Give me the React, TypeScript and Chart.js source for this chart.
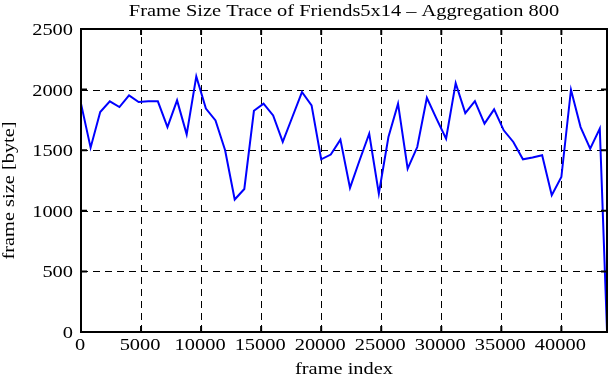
import React, { useEffect, useRef } from "react";
import { Chart, registerables } from "chart.js";

Chart.register(...registerables);

const TITLE = "Frame Size Trace of Friends5x14 – Aggregation 800";
const X_TITLE = "frame index";
const Y_TITLE = "frame size [byte]";

const frameIndex = [
  0, 800, 1600, 2400, 3200, 4000, 4800, 5600, 6400, 7200, 8000, 8800, 9600,
  10400, 11200, 12000, 12800, 13600, 14400, 15200, 16000, 16800, 17600, 18400,
  19200, 20000, 20800, 21600, 22400, 23200, 24000, 24800, 25600, 26400, 27200,
  28000, 28800, 29600, 30400, 31200, 32000, 32800, 33600, 34400, 35200, 36000,
  36800, 37600, 38400, 39200, 40000, 40800, 41600, 42400, 43200, 43800,
];

const frameSize = [
  1884, 1521, 1815, 1903, 1856, 1952, 1897, 1903, 1903, 1691, 1911, 1631, 2109,
  1843, 1746, 1500, 1093, 1180, 1825, 1884, 1787, 1568, 1774, 1980,
  1870, 1425, 1464, 1587, 1189, 1417, 1636, 1142, 1609, 1884, 1348,
  1526, 1933, 1760, 1595, 2053, 1806, 1905, 1719, 1837, 1664, 1568,
  1425, 1439, 1458, 1129, 1279, 1999, 1691, 1513, 1678, 10,
];

const xTickValues = [0, 5000, 10000, 15000, 20000, 25000, 30000, 35000, 40000];
const yTickValues = [0, 500, 1000, 1500, 2000, 2500];

const X_MIN = 0;
const X_MAX = 43800;
const Y_MIN = 0;
const Y_MAX = 2500;

const FONT = '17px "Liberation Serif"';
const SX = 1.2;

function stretchedText(
  ctx: CanvasRenderingContext2D,
  text: string,
  x: number,
  y: number,
  align: CanvasTextAlign,
  rot = 0
) {
  ctx.save();
  ctx.translate(x, y);
  ctx.rotate(rot);
  ctx.scale(SX, 1);
  ctx.font = FONT;
  ctx.fillStyle = "#000";
  ctx.textAlign = align;
  ctx.textBaseline = "alphabetic";
  ctx.fillText(text, 0, 0);
  ctx.restore();
}

const gnuplotFrame = {
  id: "gnuplotFrame",
  beforeDatasetsDraw(chart: any) {
    const { ctx, chartArea: a, scales } = chart;
    const xs = scales.x;
    const ys = scales.y;
    ctx.save();
    ctx.strokeStyle = "#000";
    ctx.lineWidth = 1;
    ctx.setLineDash([7, 5]);
    xs.ticks.forEach((t: any) => {
      if (t.value <= X_MIN || t.value >= X_MAX) return;
      const px = Math.round(xs.getPixelForValue(t.value)) + 0.5;
      ctx.beginPath();
      ctx.moveTo(px, a.bottom);
      ctx.lineTo(px, a.top);
      ctx.stroke();
    });
    ys.ticks.forEach((t: any) => {
      if (t.value <= Y_MIN || t.value >= Y_MAX) return;
      const py = Math.round(ys.getPixelForValue(t.value)) + 0.5;
      ctx.beginPath();
      ctx.moveTo(a.left, py);
      ctx.lineTo(a.right, py);
      ctx.stroke();
    });
    ctx.restore();
  },
  afterDraw(chart: any) {
    const { ctx, chartArea: a, scales } = chart;
    const xs = scales.x;
    const ys = scales.y;
    ctx.save();
    ctx.strokeStyle = "#000";
    ctx.lineWidth = 2;
    ctx.setLineDash([]);
    ctx.strokeRect(a.left, a.top, a.right - a.left, a.bottom - a.top);
    const TL = 6;
    xs.ticks.forEach((t: any) => {
      const px = xs.getPixelForValue(t.value);
      ctx.beginPath();
      ctx.moveTo(px, a.bottom);
      ctx.lineTo(px, a.bottom - TL);
      ctx.moveTo(px, a.top);
      ctx.lineTo(px, a.top + TL);
      ctx.stroke();
      stretchedText(ctx, String(t.value), px - 1, a.bottom + 18, "center");
    });
    ys.ticks.forEach((t: any) => {
      const py = ys.getPixelForValue(t.value);
      ctx.beginPath();
      ctx.moveTo(a.left, py);
      ctx.lineTo(a.left + TL, py);
      ctx.moveTo(a.right, py);
      ctx.lineTo(a.right - TL, py);
      ctx.stroke();
      stretchedText(ctx, String(t.value), a.left - 8, py + 6, "right");
    });
    const cx = (a.left + a.right) / 2;
    stretchedText(ctx, TITLE, cx, 16, "center");
    stretchedText(ctx, X_TITLE, cx, a.bottom + 42, "center");
    stretchedText(ctx, Y_TITLE, 14, (a.top + a.bottom) / 2 + 10, "center", -Math.PI / 2);
    ctx.restore();
  },
};

export default function App() {
  const ref = useRef<HTMLCanvasElement>(null);
  useEffect(() => {
    let chart: Chart | null = null;
    let cancelled = false;
    const build = () => {
      if (cancelled || !ref.current) return;
      chart = new Chart(ref.current, {
        type: "line",
        data: {
          datasets: [
            {
              label: "frame size",
              data: frameIndex.map((x, i) => ({ x, y: frameSize[i] })),
              borderColor: "#0000ff",
              borderWidth: 2,
              pointRadius: 0,
              tension: 0,
              fill: false,
            },
          ],
        },
        options: {
          animation: false,
          responsive: false,
          devicePixelRatio: 1,
          layout: { padding: { left: 81, right: 4, top: 29, bottom: 48 } },
          plugins: {
            legend: { display: false },
            title: { display: false },
            tooltip: { enabled: false },
          },
          scales: {
            x: {
              type: "linear",
              min: X_MIN,
              max: X_MAX,
              ticks: { display: false },
              afterBuildTicks: (s: any) => {
                s.ticks = xTickValues.map((v) => ({ value: v }));
              },
              grid: { display: false, drawTicks: false },
              border: { display: false },
            },
            y: {
              type: "linear",
              min: Y_MIN,
              max: Y_MAX,
              ticks: { display: false },
              afterBuildTicks: (s: any) => {
                s.ticks = yTickValues.map((v) => ({ value: v }));
              },
              grid: { display: false, drawTicks: false },
              border: { display: false },
            },
          },
        },
        plugins: [gnuplotFrame],
      });
    };
    const fonts: any = (document as any).fonts;
    if (fonts && fonts.load) {
      fonts.load(FONT, "Frame 0123456789").then(build, build);
    } else {
      build();
    }
    return () => {
      cancelled = true;
      if (chart) chart.destroy();
    };
  }, []);
  return (
    <div style={{ position: "absolute", left: 0, top: 0, width: 611, height: 380, background: "#fff" }}>
      <canvas ref={ref} width={611} height={380} />
    </div>
  );
}
